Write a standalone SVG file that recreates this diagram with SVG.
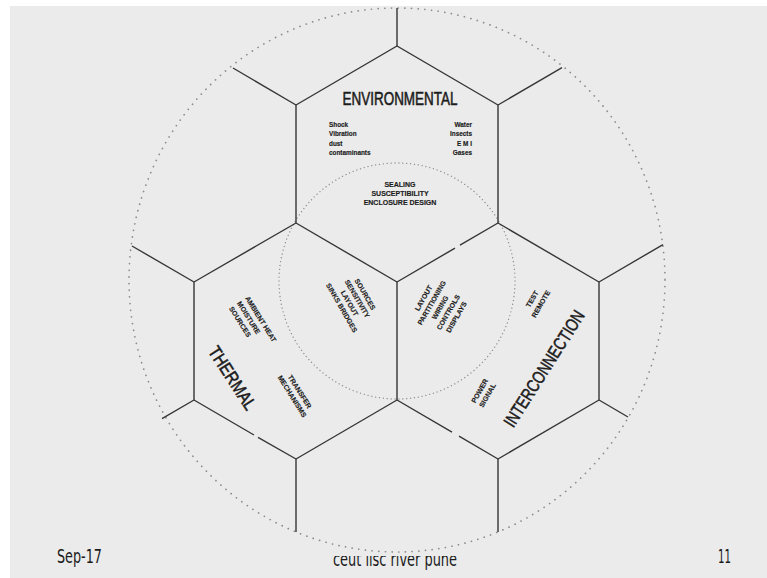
<svg xmlns="http://www.w3.org/2000/svg" width="767" height="578" viewBox="0 0 767 578">
<defs>
<style>
.ln{stroke:#363636;stroke-width:1.4;fill:none;stroke-linecap:butt}
.dotA{fill:none;stroke:#8c8c8c;stroke-width:1.7;stroke-dasharray:0.1 6.6;stroke-linecap:round}
.dotB{fill:none;stroke:#8c8c8c;stroke-width:1.3;stroke-dasharray:0.1 3.8;stroke-linecap:round}
.t{font-family:"Liberation Sans",Arial,sans-serif;fill:#1c1c1c}
.sm{font-size:7px;font-weight:bold;stroke:#1c1c1c;stroke-width:0.15}
.lst{font-size:6.4px;font-weight:bold;stroke:#1c1c1c;stroke-width:0.15}
.big{font-size:18px;stroke:#1c1c1c;stroke-width:0.55}
.ft{font-family:"DejaVu Sans Condensed","Liberation Sans Narrow","Liberation Sans",sans-serif;fill:#1a1a1a;font-size:19px}
</style>
<clipPath id="cutTop"><rect x="300" y="556" width="200" height="22"/></clipPath>
</defs>
<rect x="0" y="0" width="767" height="578" fill="#ffffff"/>
<rect x="10" y="6" width="757" height="572" fill="#ebebeb"/>

<g id="outer-circle">
<ellipse class="dotA" cx="397" cy="280" rx="268" ry="272"/>
</g>
<g id="inner-circle">
<circle class="dotB" cx="397" cy="281" r="118"/>
</g>

<g id="connectors">
<path class="ln" d="M296,105 L397,46 L498,105"/>
<path class="ln" d="M296,105 V223 M498,105 V223"/>
<path class="ln" d="M296,223 L397,282"/>
<path class="ln" d="M498,223 L460,245.2 M455,248.1 L397,282"/>
<path class="ln" d="M296,223 L194,282 M498,223 L599,282"/>
<path class="ln" d="M194,282 V400 M397,282 V400 M599,282 V400"/>
<path class="ln" d="M194,400 L254,435 M258,437.3 L296,459"/>
<path class="ln" d="M397,400 L296,459"/>
<path class="ln" d="M397,400 L452,432.1 M459,436.2 L498,459"/>
<path class="ln" d="M599,400 L498,459"/>
<path class="ln" d="M397,46 V8 M296,105 L233,68 M498,105 L562,67.6 M194,282 L132,246 M194,400 L162,418.7 M599,282 L663,244.6 M599,400 L628,417 M296,459 V532 M498,459 V532"/>
</g>

<g id="environmental">
<text class="t big" x="400" y="105" text-anchor="middle" textLength="115" lengthAdjust="spacingAndGlyphs">ENVIRONMENTAL</text>
<g class="t lst">
<text x="329" y="126.5">Shock</text>
<text x="329" y="136">Vibration</text>
<text x="329" y="145.5">dust</text>
<text x="329" y="155">contaminants</text>
</g>
<g class="t lst" text-anchor="end">
<text x="472" y="126.5">Water</text>
<text x="472" y="136">Insects</text>
<text x="472" y="145.5">E M I</text>
<text x="472" y="155">Gases</text>
</g>
<g class="t sm" text-anchor="middle">
<text x="400" y="186.5">SEALING</text>
<text x="400" y="195.8">SUSCEPTIBILITY</text>
<text x="400" y="205.2">ENCLOSURE DESIGN</text>
</g>
</g>

<g id="thermal">
<g transform="translate(232.5,378) rotate(57)">
<text class="t big" x="0" y="6.3" text-anchor="middle" textLength="72" lengthAdjust="spacingAndGlyphs">THERMAL</text>
</g>
<g class="t sm" transform="translate(247,297) rotate(58)">
<text x="0" y="2.5">AMBIENT HEAT</text>
<text x="0" y="12">MOISTURE</text>
<text x="0" y="21.5">SOURCES</text>
</g>
<g class="t sm" text-anchor="middle" transform="translate(296,394) rotate(58)">
<text x="0" y="-2">TRANSFER</text>
<text x="0" y="7">MECHANISMS</text>
</g>
<g class="t sm" text-anchor="middle" transform="translate(353.5,301) rotate(60)">
<text x="0" y="-11">SOURCES</text>
<text x="0" y="-2">SENSITIVITY</text>
<text x="0" y="7">LAYOUT</text>
<text x="0" y="16">SINKS BRIDGES</text>
</g>
</g>

<g id="interconnection">
<g transform="translate(544,368.5) rotate(-57.5)">
<text class="t big" x="0" y="6.3" text-anchor="middle" textLength="134" lengthAdjust="spacingAndGlyphs">INTERCONNECTION</text>
</g>
<g class="t sm" text-anchor="middle" transform="translate(536.5,301.5) rotate(-60)">
<text x="0" y="-2.5">TEST</text>
<text x="0" y="7.5">REMOTE</text>
</g>
<g class="t sm" text-anchor="middle" transform="translate(483.5,393) rotate(-60)">
<text x="0" y="-2">POWER</text>
<text x="0" y="7">SIGNAL</text>
</g>
<g class="t sm" text-anchor="middle" transform="translate(440,307.5) rotate(-60)">
<text x="0" y="-16.5">LAYOUT</text>
<text x="0" y="-7">PARTITIONING</text>
<text x="0" y="2.5">WIRING</text>
<text x="0" y="12">CONTROLS</text>
<text x="0" y="21.5">DISPLAYS</text>
</g>
</g>

<g id="footer">
<text class="ft" x="57" y="563" textLength="45" lengthAdjust="spacingAndGlyphs">Sep-17</text>
<text class="ft" x="718" y="563" textLength="13" lengthAdjust="spacingAndGlyphs">11</text>
<text class="ft" x="395" y="566" text-anchor="middle" textLength="124" lengthAdjust="spacingAndGlyphs" clip-path="url(#cutTop)">ceut iisc river pune</text>
</g>
</svg>
